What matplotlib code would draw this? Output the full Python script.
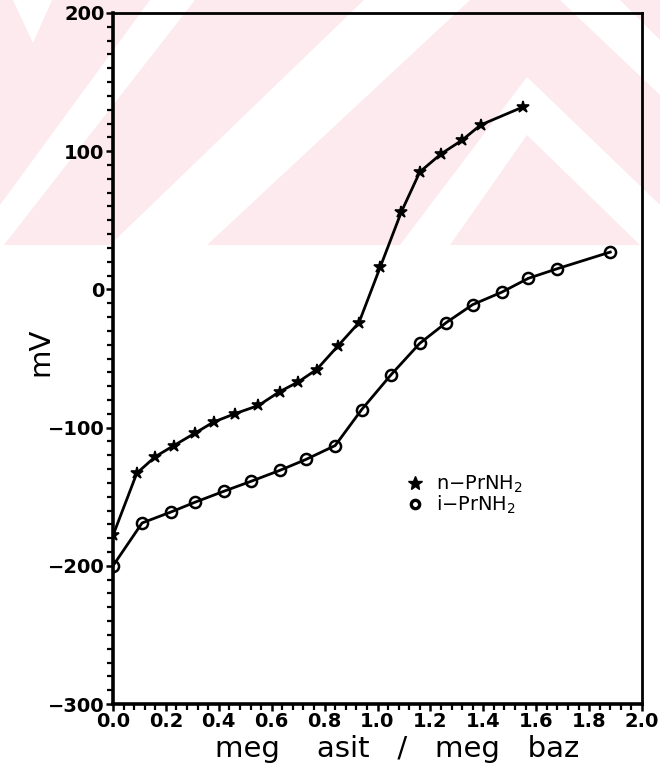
import matplotlib
matplotlib.use("Agg")
import matplotlib.pyplot as plt
from matplotlib.lines import Line2D
from matplotlib.patches import Polygon, Rectangle
from matplotlib.ticker import MultipleLocator, FixedLocator

plt.rcParams['font.family'] = ['DejaVu Sans']
plt.rcParams['mathtext.default'] = 'regular'

# n-propylamine titration curve
n_x = [0.00, 0.09, 0.16, 0.23, 0.31, 0.38, 0.46, 0.55, 0.63, 0.70,
       0.77, 0.85, 0.93, 1.01, 1.09, 1.16, 1.24, 1.32, 1.39, 1.55]
n_y = [-178, -133, -121, -113, -104, -96, -90, -84, -74, -67,
       -58, -41, -24, 16, 56, 85, 98, 108, 119, 132]

# isopropylamine titration curve
i_x = [0.00, 0.11, 0.22, 0.31, 0.42, 0.52, 0.63, 0.73, 0.84, 0.94,
       1.05, 1.16, 1.26, 1.36, 1.47, 1.57, 1.68, 1.88]
i_y = [-200, -169, -161, -154, -146, -139, -131, -123, -113, -87,
       -62, -39, -24, -11, -2, 8, 15, 27]

series_labels = ['n$-$PrNH$_2$', 'i$-$PrNH$_2$']
x_ticks = [0.0, 0.2, 0.4, 0.6, 0.8, 1.0, 1.2, 1.4, 1.6, 1.8, 2.0]
y_ticks = [-300, -200, -100, 0, 100, 200]

W, H = 660, 776
fig = plt.figure(figsize=(W / 100, H / 100), dpi=100)

# pale pink diagonal band pattern across the top of the sheet
bg = fig.add_axes([0, 0, 1, 1], zorder=-10)
bg.set_xlim(0, W)
bg.set_ylim(H, 0)
bg.axis('off')
pink = '#fdeaee'
bg.add_patch(Rectangle((0, 0), W, 245, color=pink, lw=0))
white_bands = [
    [(13, 0), (52, 0), (33, 43)],
    [(0, 205), (150, 0), (195, 0), (0, 250)],
    [(110, 245), (364, 0), (470, 0), (207, 245)],
    [(400, 245), (527, 77), (660, 205), (660, 245), (640, 245), (527, 135), (450, 245)],
    [(560, 0), (620, 0), (660, 40), (660, 95)],
]
for pts in white_bands:
    bg.add_patch(Polygon(pts, closed=True, color='white', lw=0))

ax = fig.add_axes([113 / W, 1 - 704 / H, 529 / W, 691 / H])
ax.patch.set_alpha(0)

ax.plot(n_x, n_y, color='black', lw=2.0, marker='*', ms=9, mew=1.2,
        mec='black', mfc='black', zorder=3)
ax.plot(i_x, i_y, color='black', lw=2.0, marker='o', ms=8, mew=1.8,
        mec='black', mfc='none', zorder=3)

ax.set_xlim(0, 2.0)
ax.set_ylim(-300, 200)
ax.xaxis.set_major_locator(FixedLocator(x_ticks))
ax.yaxis.set_major_locator(FixedLocator(y_ticks))
ax.xaxis.set_minor_locator(MultipleLocator(0.04))
ax.yaxis.set_minor_locator(MultipleLocator(10))
ax.set_xticklabels([f'{v:.1f}' for v in x_ticks])
ax.set_yticklabels([f'{v:d}'.replace('-', '\u2212') for v in y_ticks])

for side in ['left', 'bottom']:
    ax.spines[side].set_linewidth(2.6)
for side in ['top', 'right']:
    ax.spines[side].set_linewidth(2.0)

ax.tick_params(axis='both', which='major', direction='out', length=5,
               width=1.8, labelsize=14, pad=1)
ax.tick_params(axis='both', which='minor', direction='out', length=4,
               width=1.6)
ax.tick_params(top=False, right=False, which='both')
for lab in ax.get_xticklabels() + ax.get_yticklabels():
    lab.set_fontweight('bold')

ax.set_xlabel('meg    asit   /   meg   baz', fontsize=21, labelpad=0)
ax.xaxis.set_label_coords((397 - 113) / 529, -0.045)
ax.set_ylabel('mV', fontsize=21, va='center')
ax.yaxis.set_label_coords(-(113 - 40) / 529, (704 - 352) / 691)

handles = [
    Line2D([], [], ls='none', marker='*', ms=10, color='black'),
    Line2D([], [], ls='none', marker='o', ms=6, mew=2.4, mec='black', mfc='none'),
]
ax.legend(handles, series_labels, loc='upper left',
          bbox_to_anchor=((407 - 113) / 529, (704 - 474) / 691),
          frameon=False, fontsize=14,
          handlelength=0.8, handletextpad=0.7, labelspacing=-0.1,
          borderpad=0, borderaxespad=0)

fig.savefig('out.png', dpi=100)
